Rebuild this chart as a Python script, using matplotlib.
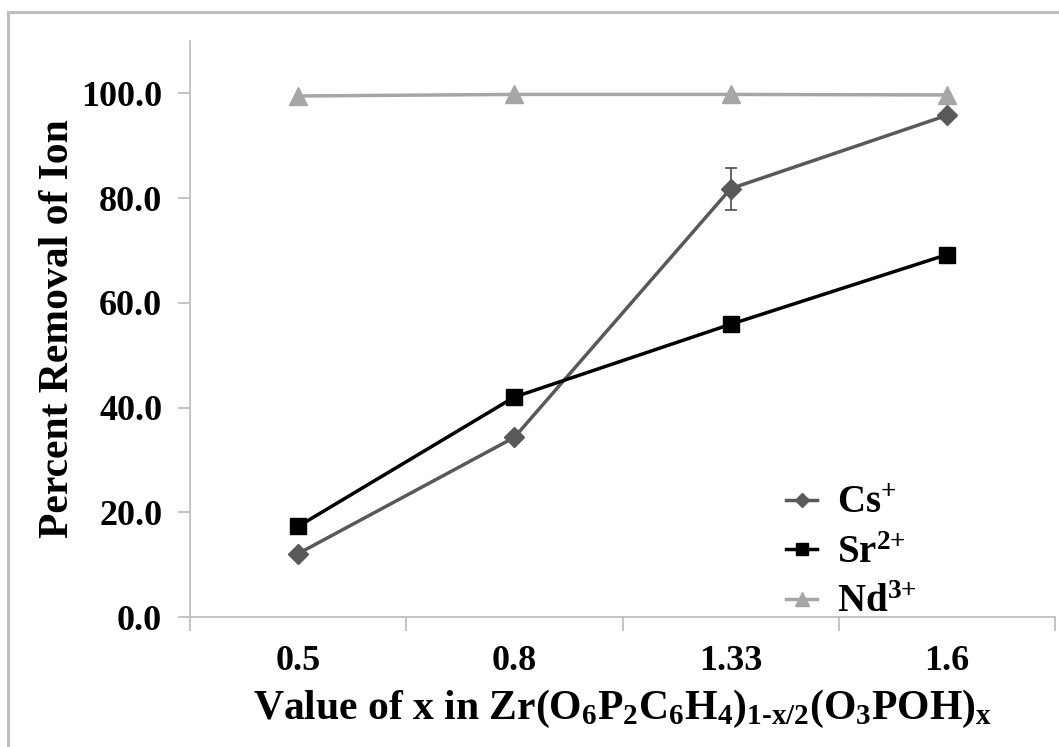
import matplotlib
matplotlib.use('Agg')
import matplotlib.pyplot as plt
from matplotlib.patches import Rectangle

# data
x_labels = ['0.5', '0.8', '1.33', '1.6']
cs_values = [12.1, 34.3, 81.8, 95.8]
cs_err = [0.0, 0.0, 4.0, 0.0]
sr_values = [17.3, 42.0, 55.9, 69.2]
sr_err = [1.2, 0.0, 0.0, 0.0]
nd_values = [99.5, 99.8, 99.8, 99.7]

plt.rcParams['font.family'] = 'Liberation Serif'
plt.rcParams['font.weight'] = 'bold'
plt.rcParams['axes.labelweight'] = 'bold'
plt.rcParams['mathtext.fontset'] = 'custom'
plt.rcParams['mathtext.rm'] = 'Liberation Serif:bold'
plt.rcParams['mathtext.it'] = 'Liberation Serif:bold'
plt.rcParams['mathtext.bf'] = 'Liberation Serif:bold'
plt.rcParams['mathtext.default'] = 'rm'

axis_grey = '#bfbfbf'

fig = plt.figure(figsize=(10.59, 7.47), dpi=100)
fig.patches.append(Rectangle((8 / 1059, -0.05), 1.1, 1 - 12 / 747 + 0.05,
                             transform=fig.transFigure, fill=False,
                             edgecolor='#c0c0c0', linewidth=2.2))
ax = fig.add_axes([190 / 1059, 1 - 617 / 747, (1055 - 190) / 1059, (617 - 41) / 747])

pos = list(range(len(x_labels)))
ax.errorbar(pos, cs_values, yerr=cs_err, fmt='none', ecolor='#595959',
            capsize=4, elinewidth=1.3, capthick=1.3)
ax.errorbar(pos, sr_values, yerr=sr_err, fmt='none', ecolor='black',
            capsize=4, elinewidth=1.3, capthick=1.3)
ax.plot(pos, cs_values, color='#595959', marker='D', markersize=10,
        linewidth=2.5, label='Cs$^{+}$')
ax.plot(pos, sr_values, color='black', marker='s', markersize=12,
        linewidth=2.5, label='Sr$^{\\text{2+}}$')
ax.plot(pos, nd_values, color='#a6a6a6', marker='^', markersize=13,
        linewidth=2.5, label='Nd$^{\\text{3+}}$')

ax.set_xlim(-0.5, len(x_labels) - 0.5)
ax.set_ylim(0, 110)
ax.set_yticks([0, 20, 40, 60, 80, 100])
ax.set_yticklabels(['%.1f' % v for v in [0, 20, 40, 60, 80, 100]])
ax.set_xticks([p - 0.5 for p in range(len(x_labels) + 1)])
ax.set_xticklabels([])
ax.set_xticks(pos, minor=True)
ax.set_xticklabels(x_labels, minor=True)
ax.tick_params(axis='x', which='minor', length=0, pad=20, labelsize=26)
ax.tick_params(axis='x', which='major', length=10, color=axis_grey, width=1.3)
ax.tick_params(axis='y', length=9, color=axis_grey, width=1.3, labelsize=26, pad=11)

for side in ['top', 'right']:
    ax.spines[side].set_visible(False)
for side in ['left', 'bottom']:
    ax.spines[side].set_color(axis_grey)
    ax.spines[side].set_linewidth(1.3)

ax.set_ylabel('Percent Removal of Ion', fontsize=30, labelpad=3)
ax.set_xlabel('Value of x in Zr(O$_6$P$_2$C$_6$H$_4$)$_{\\text{1-x/2}}$(O$_3$POH)$_x$',
              fontsize=30, labelpad=7)

leg = ax.legend(loc='lower right', bbox_to_anchor=(0.88, -0.068), frameon=False,
                fontsize=28, handlelength=0.8, handletextpad=0.5, labelspacing=0.32,
                markerscale=0.75)

fig.savefig('out.png', dpi=100)
